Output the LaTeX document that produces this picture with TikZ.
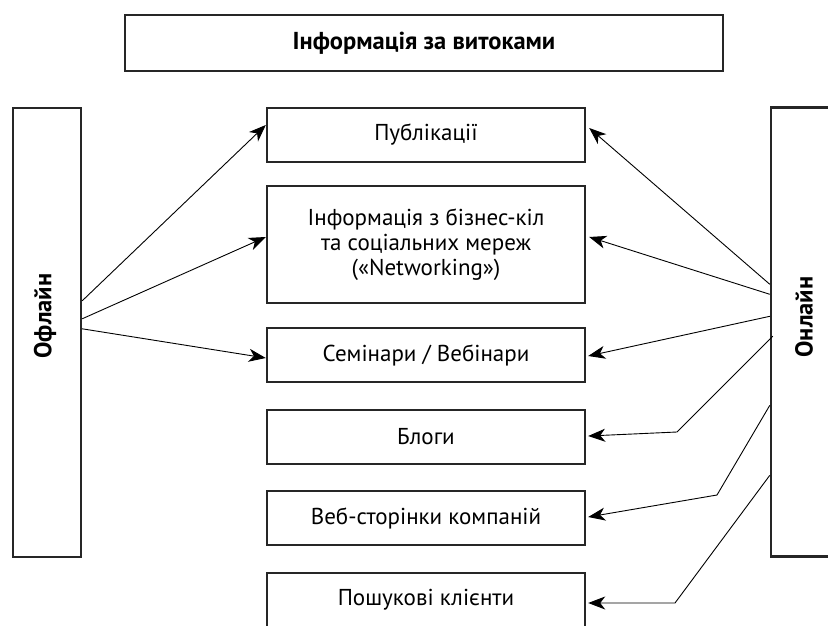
\documentclass[tikz,border=0pt]{standalone}
\usepackage{fontspec}
\setmainfont{PT Sans}
\usetikzlibrary{arrows.meta,calc}
\begin{document}
\begin{tikzpicture}[x=1pt,y=-1pt,
  box/.style={draw=black!85, line width=2.4pt, minimum width=318pt, minimum height=54pt, inner sep=0pt, align=center, font=\fontsize{23}{25}\selectfont},
  side/.style={draw=black!85, line width=2.4pt, minimum width=68pt, minimum height=449pt, inner sep=0pt},
  sidetxt/.style={rotate=90, font=\fontsize{24.5}{25}\selectfont\bfseries},
  arr/.style={draw=black, line width=0.9pt, -{Stealth[length=17pt,width=13pt,inset=5pt]}}]
\useasboundingbox (0,0) rectangle (828,626);
\fill[white] (0,0) rectangle (828,626);
\node[box, minimum width=598pt, minimum height=56pt, font=\fontsize{24.5}{25}\selectfont\bfseries] (title) at (424,43) {Інформація за витоками};
\node[side] (off) at (47,332.5) {};
\node[sidetxt] (offt) at (45,316) {Офлайн};
\node[side] (on) at (805,332) {};
\node[sidetxt] (ont) at (804,317) {Онлайн};
\node[box] (pub) at (426,135) {Публікації};
\node[box, minimum height=117pt] (net) at (426,244.5) {Інформація з бізнес-кіл\\та соціальних мереж\\(«Networking»)};
\node[box] (sem) at (426,355) {Семінари / Вебінари};
\node[box] (blog) at (426,437) {Блоги};
\node[box] (web) at (426,518) {Веб-сторінки компаній};
\node[box] (srch) at (426,600) {Пошукові клієнти};
% offline arrows
\draw[arr] ($(off.north east)+(0,194)$) -- ($(pub.west)+(0,-10)$);
\draw[arr] ($(off.north east)+(0,212)$) -- ($(net.west)+(0,-7.5)$);
\draw[arr] ($(off.north east)+(0,222)$) -- ($(sem.west)+(0,3)$);
% online arrows
\draw[arr] ($(on.north west)+(0,178)$) -- ($(pub.east)+(3,-7)$);
\draw[arr] ($(on.north west)+(0,188)$) -- ($(net.east)+(3,-7.5)$);
\draw[arr] ($(on.north west)+(0,210)$) -- ($(sem.east)+(2,1)$);
\draw[arr] ($(on.north west)+(3,230)$) -- (677,432) -- ($(blog.east)+(2,-1)$);
\draw[arr] ($(on.north west)+(0,299)$) -- (717,495) -- ($(web.east)+(2,-1)$);
\draw[arr] ($(on.north west)+(0,369)$) -- (675,603) -- ($(srch.east)+(2,3)$);
\end{tikzpicture}
\end{document}
